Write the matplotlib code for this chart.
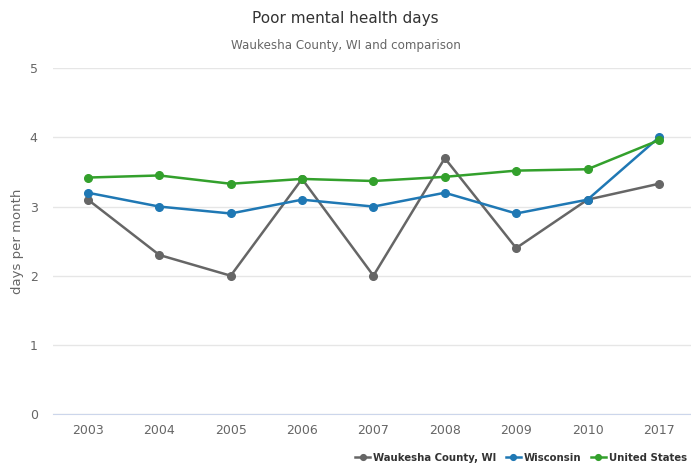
import matplotlib
matplotlib.use("Agg")
import matplotlib.pyplot as plt

# data
years = ["2003", "2004", "2005", "2006", "2007", "2008", "2009", "2010", "2017"]
waukesha = [3.1, 2.3, 2.0, 3.4, 2.0, 3.7, 2.4, 3.1, 3.33]
wisconsin = [3.2, 3.0, 2.9, 3.1, 3.0, 3.2, 2.9, 3.1, 4.0]
united_states = [3.42, 3.45, 3.33, 3.4, 3.37, 3.43, 3.52, 3.54, 3.96]

series = [
    ("Waukesha County, WI", waukesha, "#666666"),
    ("Wisconsin", wisconsin, "#1f78b4"),
    ("United States", united_states, "#33a02c"),
]

fig = plt.figure(figsize=(6.91, 4.65), dpi=100)
ax = fig.add_axes([53 / 691, 1 - 414 / 465, (691 - 53) / 691, (414 - 68.3) / 465])

x = list(range(len(years)))
for name, vals, col in series:
    ax.plot(x, vals, color=col, lw=1.8, marker="o", markersize=5.5,
            label=name, zorder=3, solid_joinstyle="round")

ax.set_ylim(0, 5)
ax.set_xlim(-0.49, 8.45)
ax.set_yticks(range(6))
ax.set_xticks(x)
ax.set_xticklabels(years)
ax.grid(axis="y", color="#e6e6e6", lw=1)
ax.set_axisbelow(True)
for s in ["top", "right", "left"]:
    ax.spines[s].set_visible(False)
ax.spines["bottom"].set_color("#ccd6eb")
ax.tick_params(axis="y", length=0, pad=11, labelsize=9, labelcolor="#666666")
ax.tick_params(axis="x", length=0, pad=7, labelsize=9, labelcolor="#666666")
ax.set_ylabel("days per month", fontsize=9.5, color="#666666", labelpad=4)

fig.text(0.5, 1 - 18 / 465, "Poor mental health days", ha="center", va="center",
         fontsize=11, color="#333333")
fig.text(0.5, 1 - 46 / 465, "Waukesha County, WI and comparison", ha="center",
         va="center", fontsize=8.6, color="#666666")

leg = fig.legend(loc="center right", bbox_to_anchor=(1 - 4 / 691, 1 - 458 / 465), ncol=3,
                 frameon=False, prop={"weight": "bold", "size": 7.3}, handlelength=1.5,
                 columnspacing=0.9, handletextpad=0.3, markerscale=0.75,
                 borderpad=0, borderaxespad=0)
for t in leg.get_texts():
    t.set_color("#333333")

fig.savefig("out.png", dpi=100)
